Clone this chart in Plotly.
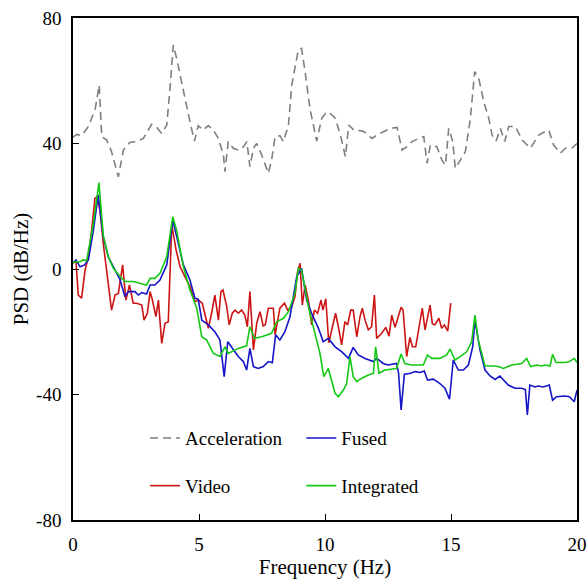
import plotly.graph_objects as go

# Acceleration PSD (dB/Hz)
acc_f = [0, 0.15, 0.34, 0.61, 0.88, 1.04, 1.14, 1.34, 1.53, 1.80,
         2.00, 2.26, 2.53, 2.79, 3.12, 3.30, 3.52, 3.72, 3.85, 3.98,
         4.11, 4.31, 4.51, 4.67, 4.82, 4.97, 5.17, 5.37, 5.57, 5.77,
         5.97, 6.03, 6.16, 6.36, 6.56, 6.76, 6.90, 7.02, 7.16, 7.29,
         7.49, 7.75, 7.88, 8.02, 8.21, 8.35, 8.55, 8.68, 8.94, 9.07,
         9.21, 9.40, 9.67, 9.87, 10.02, 10.15, 10.41, 10.61, 10.81, 10.94,
         11.14, 11.27, 11.54, 11.87, 12.06, 12.33, 12.59, 12.86, 13.06, 13.25,
         13.45, 13.72, 13.92, 14.05, 14.18, 14.44, 14.64, 14.78, 14.91, 15.07,
         15.17, 15.37, 15.57, 15.77, 15.94, 16.10, 16.30, 16.50, 16.63, 16.79,
         16.96, 17.13, 17.29, 17.56, 17.82, 18.15, 18.48, 18.68, 18.88, 19.07,
         19.34, 19.54, 19.80, 20.0]
acc_psd = [42.0, 42.9, 42.5, 45.4, 51.0, 58.6, 42.2, 41.1, 37.4, 29.4,
           37.9, 40.4, 40.6, 41.6, 46.1, 45.4, 43.2, 45.9, 57.6, 71.4,
           67.2, 59.7, 51.2, 45.9, 40.8, 45.7, 44.3, 45.7, 44.3, 41.6,
           36.3, 31.0, 40.6, 38.5, 37.9, 38.9, 40.6, 32.6, 38.5, 40.0,
           36.3, 30.5, 34.7, 42.2, 42.5, 40.6, 45.9, 58.6, 69.8, 70.3,
           62.9, 51.2, 40.8, 48.0, 49.6, 50.1, 48.0, 42.7, 35.8, 45.9,
           44.3, 44.3, 43.8, 41.6, 42.7, 43.8, 44.8, 45.1, 37.9, 39.0,
           40.6, 41.6, 42.2, 33.7, 39.5, 39.0, 34.7, 33.1, 44.8, 40.6,
           32.1, 34.7, 37.4, 48.0, 62.9, 60.8, 53.3, 48.0, 42.7, 40.8,
           44.8, 40.6, 45.4, 45.4, 41.1, 38.5, 42.7, 43.6, 44.3, 39.5,
           36.9, 38.5, 38.6, 40.0]

# Video-based displacement PSD
vid_f = [0.0, 0.12, 0.21, 0.34, 0.48, 0.61, 0.74, 0.87, 0.95, 1.07,
         1.20, 1.34, 1.53, 1.67, 1.80, 1.97, 2.10, 2.24, 2.39, 2.53,
         2.73, 2.82, 2.95, 3.06, 3.15, 3.29, 3.39, 3.52, 3.65, 3.78,
         3.92, 4.09, 4.25, 4.44, 4.64, 4.84, 4.97, 5.13, 5.24, 5.37,
         5.50, 5.63, 5.77, 5.87, 5.95, 6.10, 6.20, 6.32, 6.43, 6.56,
         6.69, 6.82, 6.92, 7.02, 7.16, 7.29, 7.42, 7.55, 7.63, 7.75,
         7.95, 8.02, 8.21, 8.39, 8.52, 8.68, 8.81, 8.91, 9.01, 9.10,
         9.21, 9.34, 9.47, 9.58, 9.71, 9.84, 9.92, 10.03, 10.15, 10.42,
         10.53, 10.66, 10.79, 10.90, 11.02, 11.12, 11.26, 11.39, 11.48, 11.59,
         11.72, 11.85, 11.96, 12.05, 12.25, 12.41, 12.54, 12.65, 12.78, 13.02,
         13.10, 13.24, 13.37, 13.47, 13.60, 13.77, 13.86, 13.97, 14.17, 14.26,
         14.36, 14.52, 14.63, 14.74, 14.87, 14.99]
vid_psd = [2.0, 2.3, -8.3, -9.3, -0.3, 3.9, 12.4, 22.5, 23.0, 18.8,
           8.2, -0.3, -13.1, -8.3, -7.8, 1.3, -9.9, -5.1, -10.9, -10.9,
           -11.5, -16.3, -14.1, -7.2, -9.9, -15.2, -9.9, -23.7, -17.3, -16.8,
           14.0, 6.1, 0.7, -2.4, -5.6, -10.4, -9.9, -10.9, -14.7, -18.9,
           -14.1, -8.3, -16.3, -7.2, -6.7, -12.0, -17.8, -14.1, -13.1, -14.1,
           -13.1, -14.7, -18.4, -7.2, -25.8, -17.3, -13.6, -18.2, -17.8, -12.5,
           -12.5, -21.0, -12.5, -10.9, -13.1, -12.0, -8.8, -0.9, 1.8, -11.5,
           -5.1, -9.9, -17.8, -13.1, -14.1, -9.9, -13.1, -9.5, -23.5, -14.1,
           -18.4, -24.2, -16.8, -17.8, -13.1, -13.1, -21.6, -15.2, -12.5, -16.3,
           -19.4, -18.4, -8.3, -22.1, -20.5, -18.6, -21.4, -14.7, -18.6, -12.2,
           -13.1, -27.9, -21.8, -24.8, -24.8, -16.8, -12.5, -19.4, -11.5, -17.5,
           -17.8, -15.7, -18.9, -17.8, -19.8, -10.9]

# Fused displacement PSD
fus_f = [0.0, 0.12, 0.28, 0.46, 0.61, 0.81, 1.00, 1.20, 1.40, 1.67,
         1.87, 2.06, 2.20, 2.46, 2.59, 2.73, 2.92, 3.06, 3.25, 3.45,
         3.72, 3.96, 4.11, 4.38, 4.64, 4.84, 4.97, 5.11, 5.37, 5.63,
         5.83, 6.00, 6.14, 6.36, 6.56, 6.76, 6.89, 7.02, 7.16, 7.35,
         7.55, 7.75, 7.91, 8.04, 8.21, 8.41, 8.61, 8.88, 9.07, 9.27,
         9.47, 9.74, 9.93, 10.13, 10.40, 10.67, 10.93, 11.12, 11.32, 11.59,
         11.92, 12.05, 12.31, 12.50, 12.84, 12.92, 13.02, 13.15, 13.40, 13.57,
         13.77, 13.94, 14.07, 14.30, 14.56, 14.76, 14.94, 15.09, 15.29, 15.49,
         15.69, 15.86, 15.95, 16.15, 16.35, 16.55, 16.75, 16.94, 17.08, 17.27,
         17.54, 17.80, 17.95, 18.03, 18.13, 18.33, 18.46, 18.66, 18.90, 19.03,
         19.19, 19.52, 19.70, 19.89, 20.0]
fus_psd = [2.0, 2.9, 0.7, 1.3, 2.9, 12.4, 23.6, 10.3, 3.9, -0.3,
           -3.5, -8.8, -7.2, -7.2, -8.3, -7.5, -8.0, -5.1, -5.1, -3.5,
           1.3, 15.6, 10.8, 1.3, -3.5, -9.3, -9.6, -16.3, -17.8, -20.0,
           -22.6, -34.3, -23.2, -25.8, -27.9, -29.5, -32.2, -25.3, -31.1, -31.7,
           -31.1, -29.5, -29.9, -21.0, -22.6, -20.0, -15.2, -2.4, 0.2, -9.9,
           -14.1, -18.9, -23.2, -22.1, -24.8, -26.4, -28.5, -25.0, -27.4, -28.5,
           -29.5, -28.5, -30.1, -30.6, -30.1, -33.2, -44.9, -33.5, -33.2, -32.7,
           -33.0, -32.5, -35.4, -35.1, -36.5, -38.0, -41.5, -29.0, -32.2, -32.2,
           -30.6, -24.8, -16.3, -25.8, -32.2, -34.1, -35.2, -34.1, -35.2, -37.0,
           -38.0, -38.0, -38.4, -46.5, -37.0, -37.6, -37.3, -37.6, -37.0, -41.8,
           -40.7, -40.5, -40.7, -42.3, -38.6]

# Integrated (double-integrated acceleration) PSD
int_f = [0.0, 0.12, 0.28, 0.41, 0.54, 0.81, 1.03, 1.20, 1.40, 1.60,
         1.87, 2.06, 2.39, 2.66, 2.92, 3.06, 3.25, 3.45, 3.72, 3.96,
         4.11, 4.38, 4.64, 4.91, 5.11, 5.30, 5.57, 5.83, 6.03, 6.16,
         6.56, 6.89, 7.02, 7.20, 7.49, 7.88, 8.08, 8.35, 8.55, 8.81,
         8.94, 9.07, 9.34, 9.60, 9.80, 9.95, 10.13, 10.40, 10.53, 10.73,
         10.86, 10.99, 11.12, 11.26, 11.46, 11.72, 11.92, 12.01, 12.14, 12.38,
         12.84, 13.02, 13.17, 13.44, 13.90, 14.07, 14.23, 14.56, 14.83, 14.96,
         15.16, 15.36, 15.62, 15.82, 15.95, 16.08, 16.35, 16.68, 16.88, 17.08,
         17.41, 17.81, 18.00, 18.16, 18.40, 18.60, 18.73, 18.93, 19.03, 19.17,
         19.52, 19.70, 19.89, 20.0]
int_psd = [2.0, 2.3, 2.3, 2.9, 2.6, 14.6, 27.5, 10.8, 3.9, 0.2,
           -2.4, -4.0, -4.0, -4.6, -5.1, -3.0, -3.0, -1.4, 3.9, 16.7,
           12.4, 0.7, -6.7, -12.5, -21.6, -22.6, -26.9, -27.9, -24.8, -26.9,
           -25.3, -24.5, -18.4, -22.1, -21.6, -20.5, -16.8, -15.7, -13.6, -7.7,
           0.2, -0.3, -12.0, -20.5, -26.9, -34.3, -31.7, -39.6, -40.7, -38.6,
           -36.5, -27.9, -34.3, -35.9, -34.8, -33.8, -33.3, -24.8, -33.2, -32.2,
           -31.7, -27.1, -30.1, -30.6, -30.6, -27.4, -28.5, -28.5, -27.4, -25.5,
           -29.0, -27.9, -26.4, -23.2, -14.7, -22.6, -30.9, -30.9, -31.1, -31.7,
           -30.6, -30.1, -28.5, -31.1, -30.6, -30.9, -30.6, -30.9, -27.2, -29.8,
           -29.8, -29.5, -28.5, -29.8]

x_ticks = [0, 5, 10, 15, 20]
y_ticks = [-80, -40, 0, 40, 80]
y_tick_text = ["-80", "-40", "0", "40", "80"]

FONT = "Liberation Serif, Times New Roman, serif"

fig = go.Figure()
fig.add_trace(go.Scatter(x=acc_f, y=acc_psd, mode="lines", name="Acceleration",
                         line=dict(color="#7f7f7f", width=1.6, dash="8px,5px"),
                         legend="legend", legendgroup="a"))
fig.add_trace(go.Scatter(x=vid_f, y=vid_psd, mode="lines", name="Video",
                         line=dict(color="#cc1414", width=1.6),
                         legend="legend", legendgroup="v"))
fig.add_trace(go.Scatter(x=fus_f, y=fus_psd, mode="lines", name="Fused",
                         line=dict(color="#1414c8", width=1.6),
                         legend="legend2", legendgroup="f"))
fig.add_trace(go.Scatter(x=int_f, y=int_psd, mode="lines", name="Integrated",
                         line=dict(color="#14c814", width=1.6),
                         legend="legend2", legendgroup="i"))

axis_common = dict(showline=True, mirror=True, linecolor="black", linewidth=1.5,
                   ticks="inside", ticklen=6, tickwidth=1.2, tickcolor="black",
                   showgrid=False, zeroline=False, automargin=False,
                   tickfont=dict(family=FONT, size=19, color="black"),
                   title_font=dict(family=FONT, size=21, color="black"))

fig.update_xaxes(range=[0, 20], tickvals=x_ticks, title_text="Frequency (Hz)",
                 title_standoff=2, ticklabelstandoff=6, **axis_common)
fig.update_yaxes(range=[-80, 80], tickvals=y_ticks, ticktext=y_tick_text,
                 title_text="PSD (dB/Hz)",
                 title_standoff=2, ticklabelstandoff=6, **axis_common)

legend_common = dict(font=dict(family=FONT, size=19, color="black"),
                     bgcolor="rgba(0,0,0,0)", borderwidth=0,
                     tracegroupgap=20, yanchor="top", xanchor="left",
                     itemwidth=30)

fig.update_layout(
    width=588, height=583,
    margin=dict(l=73, r=11, t=18, b=63),
    paper_bgcolor="white", plot_bgcolor="white",
    showlegend=True,
    legend=dict(x=0.143, y=0.201, **legend_common),
    legend2=dict(x=0.453, y=0.201, **legend_common),
)

fig.write_html("out.html")
